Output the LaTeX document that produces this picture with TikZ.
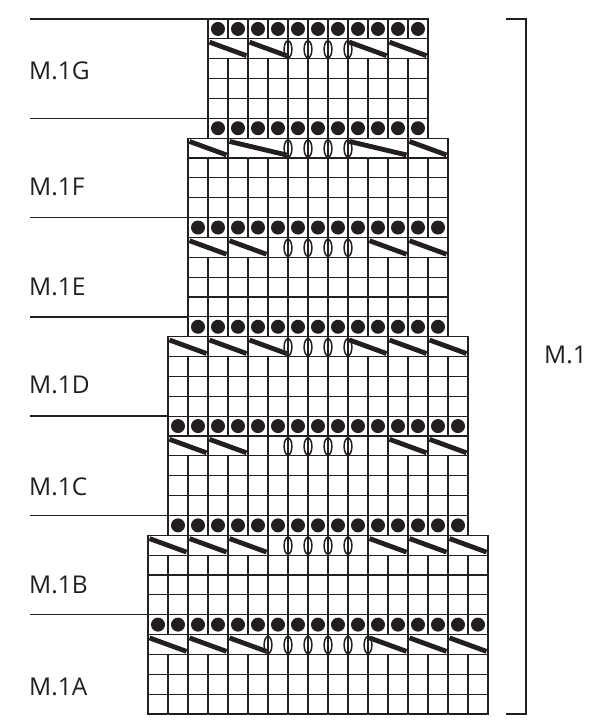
\documentclass[tikz,border=0pt]{standalone}
\usepackage{fontspec}
\setmainfont{Open Sans}
\definecolor{ink}{HTML}{231F20}
\newcommand\kH{19.857}
% plain row: row index, x0, number of cells
\newcommand\kplain[3]{%
  \pgfmathsetmacro\kyt{19+#1*\kH}%
  \draw[gridline] (#2,\kyt) rectangle ++(20*#3,\kH);
  \pgfmathtruncatemacro\knn{#3-1}%
  \foreach \i in {1,...,\knn} {\draw[gridline] (#2+20*\i,\kyt) -- ++(0,\kH);}
}
\newcommand\kdots[3]{%
  \kplain{#1}{#2}{#3}%
  \pgfmathsetmacro\kyt{19+#1*\kH}%
  \pgfmathtruncatemacro\knn{#3-1}%
  \foreach \i in {0,...,\knn} {\fill[ink] (#2+20*\i+10,\kyt+\kH/2) circle (7);}
}
% slash row: row, x0, n, verticals, slash spans a/b, oval lines
\newcommand\kslash[6]{%
  \pgfmathsetmacro\kyt{19+#1*\kH}%
  \draw[gridline] (#2,\kyt) rectangle ++(20*#3,\kH);
  \foreach \i in {#4} {\draw[gridline] (#2+20*\i,\kyt) -- ++(0,\kH);}
  \foreach \a/\b in {#5} {\draw[slashline] (#2+20*\a+1.5,\kyt+3.3) -- (#2+20*\b-1.5,\kyt+16.8);}
  \foreach \k in {#6} {\draw[ovalline] (#2+20*\k,\kyt+\kH/2+0.5) ellipse (3.9 and 8.5);}
}
\begin{document}
\begin{tikzpicture}[x=1pt,y=-1pt,
  gridline/.style={draw=ink,line width=1.2pt},
  slashline/.style={draw=ink,line width=4.8pt},
  ovalline/.style={draw=ink,line width=1.5pt},
  labelline/.style={draw=ink,line width=1.3pt},
  lab/.style={font=\fontsize{24.5}{28}\selectfont,text=ink,inner sep=0pt,anchor=west}]
\useasboundingbox (0,0) rectangle (600,721);
% G
\kdots{0}{208}{11}
\kslash{1}{208}{11}{2,4,5,6,7,9}{0/2,2/4,7/9,9/11}{4,5,6,7}
\kplain{2}{208}{11}\kplain{3}{208}{11}\kplain{4}{208}{11}
% F
\kdots{5}{208}{11}
\kslash{6}{188}{13}{2,5,6,7,8,11}{0/2,2/5,8/11,11/13}{5,6,7,8}
\kplain{7}{188}{13}\kplain{8}{188}{13}\kplain{9}{188}{13}
% E
\kdots{10}{188}{13}
\kslash{11}{188}{13}{2,4,5,6,7,8,9,11}{0/2,2/4,9/11,11/13}{5,6,7,8}
\kplain{12}{188}{13}\kplain{13}{188}{13}\kplain{14}{188}{13}
% D
\kdots{15}{188}{13}
\kslash{16}{168}{15}{2,4,6,7,8,9,11,13}{0/2,2/4,4/6,9/11,11/13,13/15}{6,7,8,9}
\kplain{17}{168}{15}\kplain{18}{168}{15}\kplain{19}{168}{15}
% C
\kdots{20}{168}{15}
\kslash{21}{168}{15}{2,4,5,6,7,8,9,10,11,13}{0/2,2/4,11/13,13/15}{6,7,8,9}
\kplain{22}{168}{15}\kplain{23}{168}{15}\kplain{24}{168}{15}
% B
\kdots{25}{168}{15}
\kslash{26}{148}{17}{2,4,6,7,8,9,10,11,13,15}{0/2,2/4,4/6,11/13,13/15,15/17}{7,8,9,10}
\kplain{27}{148}{17}\kplain{28}{148}{17}\kplain{29}{148}{17}
% A
\kdots{30}{148}{17}
\kslash{31}{148}{17}{2,4,6,7,8,9,10,11,13,15}{0/2,2/4,4/6,11/13,13/15,15/17}{6,7,8,9,10,11}
\kplain{32}{148}{17}\kplain{33}{148}{17}\kplain{34}{148}{17}
% label lines
\foreach \r/\x in {0/208,5/208,10/188,15/188,20/168,25/168,30/148}
  {\draw[labelline] (30,19+\r*\kH) -- (\x,19+\r*\kH);}
% labels
\node[lab] (lG) at (29,71) {M.1G};
\node[lab] (lF) at (29,187) {M.1F};
\node[lab] (lE) at (29,287) {M.1E};
\node[lab] (lD) at (29,385) {M.1D};
\node[lab] (lC) at (29,487) {M.1C};
\node[lab] (lB) at (29,585) {M.1B};
\node[lab] (lA) at (29,687) {M.1A};
% bracket
\coordinate (bt) at (506,19);
\coordinate (bb) at (506,714);
\draw[labelline,line width=1.5pt] (bt) -- (526,19) -- (526,714) -- (bb);
\node[lab] (lM) at (544,355) {M.1};
\end{tikzpicture}
\end{document}
